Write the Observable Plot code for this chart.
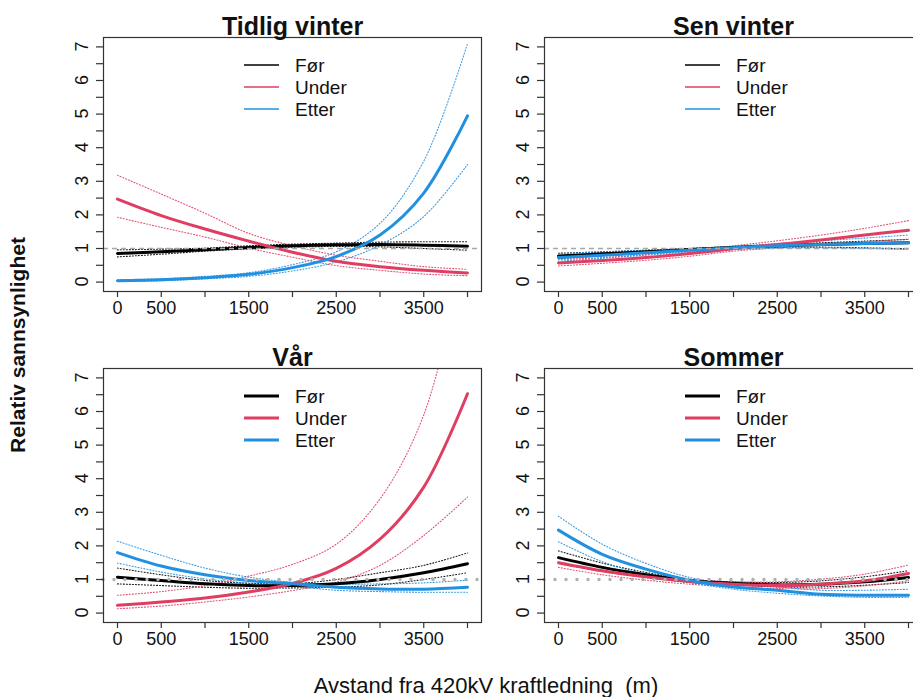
<!DOCTYPE html>
<html>
<head>
<meta charset="utf-8">
<script src="https://cdn.jsdelivr.net/npm/d3@7"></script>
<script src="https://cdn.jsdelivr.net/npm/@observablehq/plot@0.6"></script>
<style>
  html, body { margin: 0; padding: 0; background: #fff; }
  body { width: 913px; height: 697px; overflow: hidden; position: relative; font-family: "Liberation Sans", Arial, sans-serif; }
  .panel { position: absolute; width: 443px; height: 334px; }
  .panel svg { max-width: none !important; }
  #ylab { position: absolute; left: 18px; top: 345px; transform: translate(-50%, -50%) rotate(-90deg); font-weight: bold; font-size: 21px; white-space: nowrap; color: #111; }
  #xlab { position: absolute; left: 486px; top: 686px; transform: translate(-50%, -50%); font-size: 22px; white-space: nowrap; color: #111; }
</style>
</head>
<body>
<div id="ylab">Relativ sannsynlighet</div>
<div id="xlab">Avstand fra 420kV kraftledning&nbsp;&nbsp;(m)</div>
<script>
// ---- data ----
const xs = [0, 500, 1000, 1500, 2000, 2500, 3000, 3500, 4000];
const seriesNames = ["Før", "Under", "Etter"];
const seriesColors = ["#000000", "#DF3E62", "#2090E0"];
const panelTitles = ["Tidlig vinter", "Sen vinter", "Vår", "Sommer"];
const xTickValues = [0, 500, 1000, 1500, 2000, 2500, 3000, 3500, 4000];
const xTickLabels = [0, 500, 1500, 2500, 3500];
const yTickLabels = [0, 1, 2, 3, 4, 5, 6, 7];
const yTickValues = [0, 0.5, 1, 1.5, 2, 2.5, 3, 3.5, 4, 4.5, 5, 5.5, 6, 6.5, 7];

// Tidlig vinter
const tvForMean = [0.85, 0.9, 0.96, 1.03, 1.08, 1.11, 1.12, 1.1, 1.07];
const tvForLo   = [0.75, 0.83, 0.92, 0.99, 1.04, 1.06, 1.05, 1.0, 0.95];
const tvForHi   = [0.96, 0.98, 1.01, 1.08, 1.13, 1.16, 1.19, 1.2, 1.2];
const tvUnderMean = [2.47, 1.98, 1.58, 1.22, 0.89, 0.62, 0.46, 0.35, 0.27];
const tvUnderLo   = [1.93, 1.63, 1.34, 1.01, 0.74, 0.49, 0.35, 0.24, 0.19];
const tvUnderHi   = [3.18, 2.62, 2.05, 1.45, 1.08, 0.8, 0.62, 0.46, 0.38];
const tvEtterMean = [0.04, 0.07, 0.13, 0.23, 0.43, 0.76, 1.4, 2.65, 4.95];
const tvEtterLo   = [0.02, 0.04, 0.1, 0.17, 0.33, 0.6, 1.1, 1.95, 3.5];
const tvEtterHi   = [0.07, 0.1, 0.17, 0.28, 0.52, 0.9, 1.75, 3.6, 7.1];

// Sen vinter
const svForMean = [0.78, 0.84, 0.9, 0.97, 1.03, 1.08, 1.12, 1.15, 1.17];
const svForLo   = [0.7, 0.78, 0.86, 0.94, 1.0, 1.03, 1.04, 1.02, 0.99];
const svForHi   = [0.86, 0.9, 0.95, 1.0, 1.06, 1.12, 1.17, 1.22, 1.27];
const svUnderMean = [0.57, 0.64, 0.73, 0.85, 0.99, 1.12, 1.25, 1.4, 1.54];
const svUnderLo   = [0.48, 0.56, 0.65, 0.77, 0.92, 1.02, 1.12, 1.2, 1.28];
const svUnderHi   = [0.67, 0.73, 0.82, 0.95, 1.08, 1.23, 1.4, 1.6, 1.83];
const svEtterMean = [0.73, 0.8, 0.87, 0.95, 1.02, 1.08, 1.12, 1.15, 1.17];
const svEtterLo   = [0.62, 0.71, 0.8, 0.9, 0.97, 1.01, 1.02, 1.0, 0.97];
const svEtterHi   = [0.85, 0.9, 0.95, 1.0, 1.07, 1.15, 1.23, 1.31, 1.4];

// Vår
const vaForMean = [1.07, 0.97, 0.87, 0.82, 0.82, 0.87, 1.0, 1.2, 1.47];
const vaForLo   = [0.87, 0.82, 0.77, 0.74, 0.75, 0.77, 0.84, 1.0, 1.2];
const vaForHi   = [1.34, 1.14, 0.97, 0.89, 0.87, 1.0, 1.2, 1.42, 1.79];
const vaUnderMean = [0.23, 0.33, 0.45, 0.63, 0.88, 1.33, 2.2, 3.75, 6.53];
const vaUnderLo   = [0.13, 0.21, 0.33, 0.48, 0.67, 0.92, 1.42, 2.31, 3.45];
const vaUnderHi   = [0.53, 0.64, 0.82, 1.1, 1.45, 2.05, 3.4, 5.9, 11];
const vaEtterMean = [1.8, 1.4, 1.14, 0.97, 0.87, 0.77, 0.72, 0.71, 0.77];
const vaEtterLo   = [1.49, 1.22, 1.02, 0.89, 0.8, 0.68, 0.64, 0.62, 0.62];
const vaEtterHi   = [2.14, 1.72, 1.34, 1.07, 0.92, 0.86, 0.87, 0.9, 0.98];

// Sommer
const soForMean = [1.65, 1.36, 1.14, 0.96, 0.88, 0.84, 0.86, 0.93, 1.06];
const soForLo   = [1.48, 1.24, 1.06, 0.91, 0.84, 0.78, 0.78, 0.83, 0.91];
const soForHi   = [1.85, 1.49, 1.21, 1.01, 0.93, 0.91, 0.96, 1.08, 1.26];
const soUnderMean = [1.5, 1.26, 1.08, 0.94, 0.86, 0.82, 0.86, 0.96, 1.18];
const soUnderLo   = [1.36, 1.14, 0.98, 0.86, 0.78, 0.73, 0.73, 0.81, 0.96];
const soUnderHi   = [1.65, 1.38, 1.16, 1.0, 0.93, 0.93, 1.01, 1.16, 1.43];
const soEtterMean = [2.47, 1.75, 1.31, 0.98, 0.78, 0.68, 0.56, 0.53, 0.53];
const soEtterLo   = [2.12, 1.53, 1.14, 0.91, 0.71, 0.59, 0.51, 0.47, 0.47];
const soEtterHi   = [2.88, 2.05, 1.48, 1.06, 0.86, 0.78, 0.68, 0.68, 0.71];

// ---- layout ----
const panels = [
  { title: panelTitles[0], left: 43, top: -3, bottomRow: false,
    series: [[tvForMean, tvForLo, tvForHi], [tvUnderMean, tvUnderLo, tvUnderHi], [tvEtterMean, tvEtterLo, tvEtterHi]] },
  { title: panelTitles[1], left: 484, top: -3, bottomRow: false,
    series: [[svForMean, svForLo, svForHi], [svUnderMean, svUnderLo, svUnderHi], [svEtterMean, svEtterLo, svEtterHi]] },
  { title: panelTitles[2], left: 43, top: 328, bottomRow: true,
    series: [[vaForMean, vaForLo, vaForHi], [vaUnderMean, vaUnderLo, vaUnderHi], [vaEtterMean, vaEtterLo, vaEtterHi]] },
  { title: panelTitles[3], left: 484, top: 328, bottomRow: true,
    series: [[soForMean, soForLo, soForHi], [soUnderMean, soUnderLo, soUnderHi], [soEtterMean, soEtterLo, soEtterHi]] }
];

const FONT = "'Liberation Sans', Arial, sans-serif";

function legendMark(bottomRow) {
  return (index, scales, values, dim) => {
    const g = d3.create("svg:g");
    const x0 = dim.marginLeft + 141, x1 = dim.marginLeft + 176, xt = dim.marginLeft + 192;
    const rowsY = [28, 50, 72];
    seriesNames.forEach((name, i) => {
      const y = dim.marginTop + rowsY[i];
      g.append("line").attr("x1", x0).attr("x2", x1).attr("y1", y).attr("y2", y)
        .attr("stroke", seriesColors[i]).attr("stroke-width", bottomRow ? 3 : 1.5);
      g.append("text").attr("x", xt).attr("y", y).attr("dy", "0.35em")
        .attr("text-anchor", "start")
        .attr("font-size", 19).attr("font-family", FONT).attr("fill", "#111").text(name);
    });
    return g.node();
  };
}

function yLabelMark() {
  return (index, scales, values, dim) => {
    const g = d3.create("svg:g");
    yTickLabels.forEach(v => {
      g.append("text")
        .attr("transform", `translate(${dim.marginLeft - 21},${scales.y(v)}) rotate(-90)`)
        .attr("text-anchor", "middle").attr("dy", "0.35em")
        .attr("font-size", 18).attr("font-family", FONT).attr("fill", "#111")
        .text(String(v));
    });
    return g.node();
  };
}

panels.forEach(p => {
  const rows = [];
  p.series.forEach(([mean, lo, hi], si) => {
    const name = seriesNames[si];
    xs.forEach((x, i) => {
      rows.push({ x, y: mean[i], series: name, kind: "mean" });
      rows.push({ x, y: lo[i], series: name, kind: "lo" });
      rows.push({ x, y: hi[i], series: name, kind: "hi" });
    });
  });
  const refLine = p.bottomRow
    ? Plot.ruleY([1], { stroke: "#b0b0b0", strokeWidth: 3.5, strokeDasharray: "0,11", strokeLinecap: "round" })
    : Plot.ruleY([1], { stroke: "#a8a8a8", strokeWidth: 1.3, strokeDasharray: "5,4" });

  const chart = Plot.plot({
    width: 443, height: 334,
    marginLeft: 60, marginRight: 5, marginTop: 40, marginBottom: 40,
    x: { domain: [-160, 4160] },
    y: { domain: [-0.28, 7.28] },
    color: { domain: seriesNames, range: seriesColors },
    style: { fontFamily: FONT, background: "transparent", overflow: "visible", color: "#111", maxWidth: "none" },
    marks: [
      Plot.line(rows.filter(d => d.kind !== "mean"), {
        x: "x", y: "y", z: d => d.series + d.kind, stroke: "series",
        strokeWidth: 1.1, strokeDasharray: "1,2", strokeOpacity: 0.9, curve: "catmull-rom", clip: true
      }),
      Plot.line(rows.filter(d => d.kind === "mean"), {
        x: "x", y: "y", z: "series", stroke: "series", strokeWidth: 3, curve: "catmull-rom", clip: true
      }),
      refLine,
      Plot.frame({ stroke: "#333", strokeWidth: 1.2 }),
      Plot.axisX(xTickValues, { tickSize: 6, tickFormat: () => "", label: null, stroke: "#333", strokeWidth: 1.2 }),
      Plot.axisY(yTickValues, { tickSize: 7, tickFormat: () => "", label: null, stroke: "#333", strokeWidth: 1.2 }),
      Plot.text(xTickLabels, { x: d => d, text: d => String(d), frameAnchor: "bottom", lineAnchor: "middle", dy: 17, fontSize: 18, fill: "#111" }),
      yLabelMark(),
      Plot.text([p.title], { text: d => d, frameAnchor: "top", dy: -3, lineAnchor: "bottom", fontSize: 25, fontWeight: "bold", fill: "#111" }),
      legendMark(p.bottomRow)
    ]
  });
  const div = document.createElement("div");
  div.className = "panel";
  div.style.left = p.left + "px";
  div.style.top = p.top + "px";
  div.appendChild(chart);
  document.body.appendChild(div);
});
</script>
</body>
</html>
